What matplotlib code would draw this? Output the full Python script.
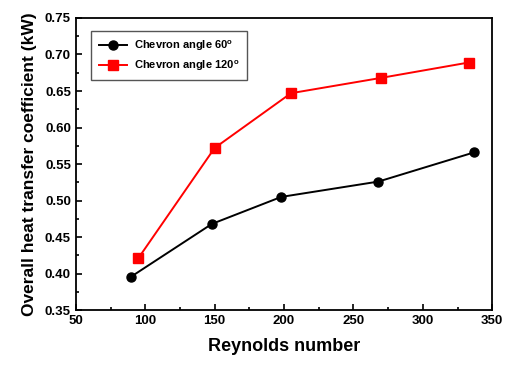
import matplotlib
matplotlib.use('Agg')
import matplotlib.pyplot as plt
from matplotlib.ticker import MultipleLocator, FormatStrFormatter

plt.rcParams['font.family'] = ['Liberation Sans', 'DejaVu Sans']
plt.rcParams['font.weight'] = 'bold'
plt.rcParams['mathtext.fontset'] = 'custom'
plt.rcParams['mathtext.rm'] = 'Liberation Sans:bold'
plt.rcParams['mathtext.bf'] = 'Liberation Sans:bold'
plt.rcParams['mathtext.default'] = 'bf'

# data
re_60 = [90, 148, 198, 268, 337]
u_60 = [0.396, 0.468, 0.505, 0.526, 0.566]
re_120 = [95, 150, 205, 270, 333]
u_120 = [0.421, 0.572, 0.647, 0.668, 0.689]

fig = plt.figure(figsize=(5.09, 3.67), dpi=100)
ax = fig.add_axes([0.149, 0.155, 0.818, 0.796])

ax.plot(re_60, u_60, '-o', color='black', linewidth=1.4, markersize=6.5,
        label='Chevron angle 60$^{o}$')
ax.plot(re_120, u_120, '-s', color='#ff0000', linewidth=1.4, markersize=6.5,
        label='Chevron angle 120$^{o}$')

ax.set_xlim(50, 350)
ax.set_ylim(0.35, 0.75)
ax.xaxis.set_major_locator(MultipleLocator(50))
ax.xaxis.set_minor_locator(MultipleLocator(25))
ax.yaxis.set_major_locator(MultipleLocator(0.05))
ax.yaxis.set_minor_locator(MultipleLocator(0.025))
ax.yaxis.set_major_formatter(FormatStrFormatter('%.2f'))

ax.tick_params(which='both', direction='in', labelsize=9.5, width=1.2)
ax.tick_params(which='major', length=4)
ax.tick_params(which='minor', length=2.5)
for lab in ax.get_xticklabels() + ax.get_yticklabels():
    lab.set_fontweight('bold')
for s in ax.spines.values():
    s.set_linewidth(1.3)

ax.set_xlabel('Reynolds number', fontsize=13, fontweight='bold', labelpad=8)
ax.set_ylabel('Overall heat transfer coefficient (kW)', fontsize=12.5,
              fontweight='bold', labelpad=6)

leg = ax.legend(loc='upper left', bbox_to_anchor=(0.036, 0.955),
                prop={'size': 8, 'weight': 'bold'},
                fancybox=False, edgecolor='#555555', framealpha=1,
                handlelength=2.6, handletextpad=0.6, borderpad=0.7,
                labelspacing=0.45, borderaxespad=0)
leg.get_frame().set_linewidth(1.0)

fig.savefig('out.png', dpi=100)
